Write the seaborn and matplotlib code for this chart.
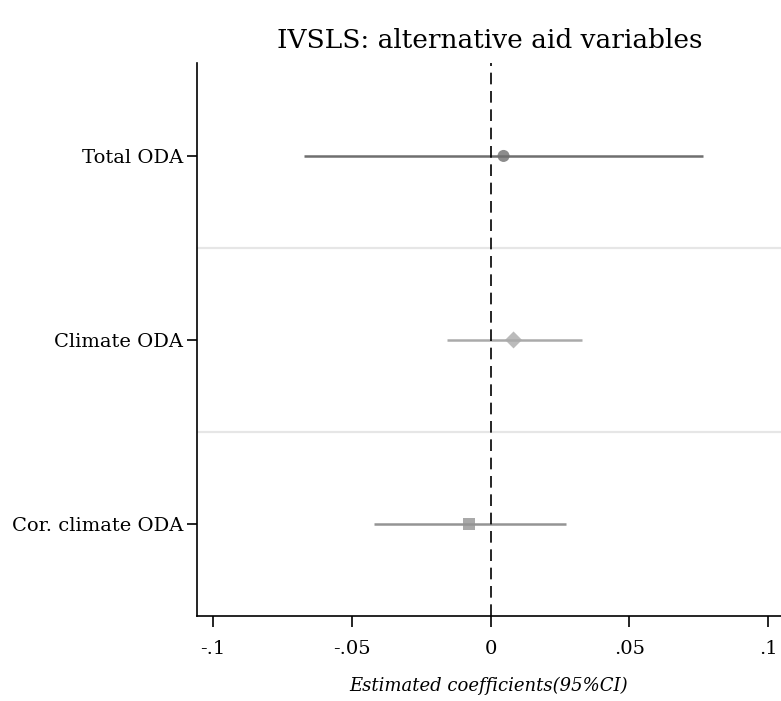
import matplotlib
matplotlib.use("Agg")
import matplotlib.pyplot as plt
import seaborn as sns
import pandas as pd

# coefficient estimates and 95% CI
labels = ["Total ODA", "Climate ODA", "Cor. climate ODA"]
coef = [0.0047, 0.0083, -0.0076]
ci_low = [-0.0673, -0.0156, -0.0420]
ci_high = [0.0766, 0.0330, 0.0272]

colors = ["#6f6f6f", "#aaaaaa", "#949494"]
markers = ["o", "D", "s"]

df = pd.DataFrame({"label": labels, "coef": coef, "lo": ci_low, "hi": ci_high})
df["pos"] = range(len(df))

sns.set_style("white")
plt.rcParams["font.family"] = ["DejaVu Serif"]
plt.rcParams["text.color"] = "black"
plt.rcParams["xtick.color"] = "black"
plt.rcParams["ytick.color"] = "black"
plt.rcParams["axes.labelcolor"] = "black"

fig = plt.figure(figsize=(7.81, 7.01), dpi=100)
ax = fig.add_axes([0.2522, 0.1213, 0.7478, 0.7888])

for sep in [0.5, 1.5]:
    ax.axhline(sep, color="#e6e6e6", lw=1.6, zorder=0)

ax.hlines(df["pos"], df["lo"], df["hi"], colors=colors, lw=1.8, zorder=2)
ax.axvline(0, color="black", lw=1.2, ls=(0, (7, 4)), zorder=3)

sns.scatterplot(data=df, x="coef", y="pos", hue="label", style="label",
                palette=colors, markers=markers, s=75, alpha=0.8,
                edgecolor="none", legend=False, ax=ax, zorder=4)

ax.set_xlim(-0.1058, 0.1047)
ax.set_ylim(2.5, -0.505)
ax.set_xticks([-0.1, -0.05, 0, 0.05, 0.1])
ax.set_xticklabels(["-.1", "-.05", "0", ".05", ".1"])
ax.set_yticks(df["pos"])
ax.set_yticklabels(labels)
ax.tick_params(axis="x", length=8, width=1.2, labelsize=14, pad=9, direction="out", bottom=True)
ax.tick_params(axis="y", length=7, width=1.2, labelsize=14, pad=3, direction="out", left=True)

for s in ["top", "right"]:
    ax.spines[s].set_visible(False)
for s in ["left", "bottom"]:
    ax.spines[s].set_color("black")
    ax.spines[s].set_linewidth(1.2)

ax.set_xlabel("Estimated coefficients(95%CI)", fontsize=13, style="italic", labelpad=14)
ax.set_ylabel("")
fig.suptitle("IVSLS: alternative aid variables", fontsize=19, x=0.627, y=0.96)

fig.savefig("out.png", dpi=100)
